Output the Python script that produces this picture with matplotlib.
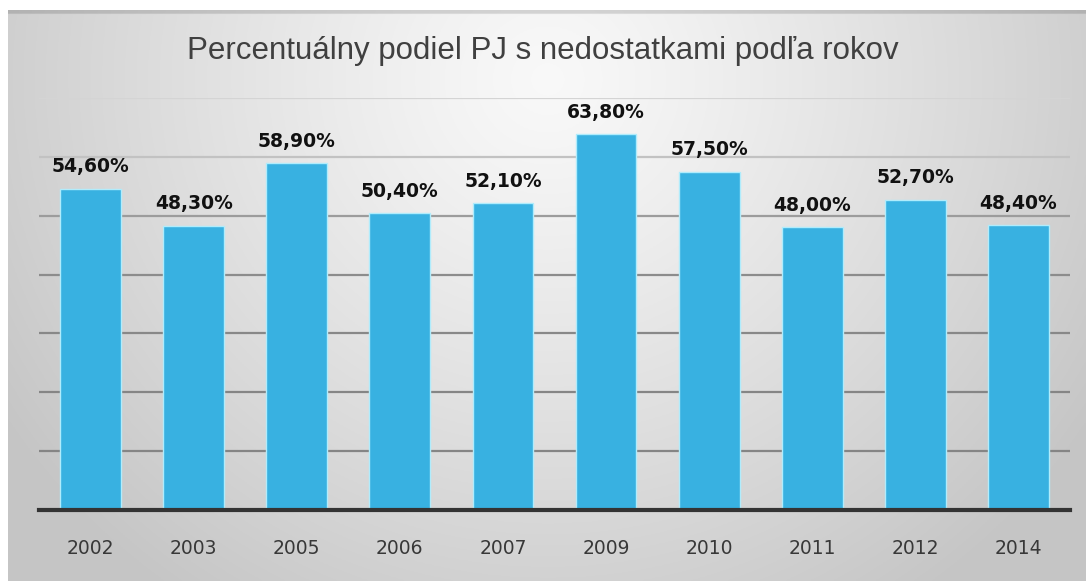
import numpy as np
import matplotlib
matplotlib.use("Agg")
import matplotlib.pyplot as plt

years = ["2002", "2003", "2005", "2006", "2007", "2009", "2010", "2011", "2012", "2014"]
values = [54.6, 48.3, 58.9, 50.4, 52.1, 63.8, 57.5, 48.0, 52.7, 48.4]
labels = ["54,60%", "48,30%", "58,90%", "50,40%", "52,10%", "63,80%", "57,50%", "48,00%", "52,70%", "48,40%"]
title = "Percentuálny podiel PJ s nedostatkami podľa rokov"

W, H = 1086, 581
fig = plt.figure(figsize=(W / 100, H / 100), dpi=100)
fig.patch.set_facecolor("white")

# background panel with radial gradient
bg = fig.add_axes([8 / W, 0, 1 - 8 / W, 1 - 10 / H])
bg.set_axis_off()
ny, nx = 300, 600
yy, xx = np.mgrid[0:ny, 0:nx]
cx, cy = nx * 0.5, ny * 0.12
r = np.sqrt(((xx - cx) / (nx * 0.6)) ** 2 + ((yy - cy) / (ny * 1.1)) ** 2)
r = np.clip(r, 0, 1)
val = 0.975 - 0.20 * r ** 1.2
img = np.dstack([val, val, val])
img[0:2, :, :] *= 0.86
bg.imshow(img, aspect="auto", extent=[0, 1, 0, 1], origin="upper")
bg.set_xlim(0, 1)
bg.set_ylim(0, 1)

ax = fig.add_axes([39 / W, 1 - 510 / H, (1070 - 39) / W, (510 - 98) / H])
ax.patch.set_alpha(0)
x = np.arange(len(years))
bars = ax.bar(x, values, width=0.59, color="#38b1e1", edgecolor="#b0ecfc", linewidth=1.0, zorder=3)
ax.set_xlim(-0.5, len(years) - 0.5)
ax.set_ylim(0, 70)
ax.set_yticks(np.arange(10, 71, 10))
ax.yaxis.grid(True, color="#8a8a8a", linewidth=1.6, zorder=1)
for i, gl in enumerate(ax.yaxis.get_gridlines()):
    c = ["#858585", "#858585", "#888888", "#8c8c8c", "#9c9c9c", "#c2c2c2", "#d4d4d4"][min(i, 6)]
    gl.set_color(c)
ax.tick_params(axis="y", left=False, labelleft=False)
ax.set_xticks(x)
ax.set_xticklabels(years, fontsize=13.5, color="#383838", fontfamily="DejaVu Sans")
ax.tick_params(axis="x", length=0, pad=21)
for s in ["top", "right", "left"]:
    ax.spines[s].set_visible(False)
ax.spines["bottom"].set_color("#333333")
ax.spines["bottom"].set_linewidth(3)
ax.spines["bottom"].set_zorder(4)

for b, lab in zip(bars, labels):
    ax.annotate(lab, (b.get_x() + b.get_width() / 2, b.get_height()), xytext=(0, 9),
                textcoords="offset points", ha="center", va="bottom",
                fontsize=13.5, fontweight="bold", color="#111111", fontfamily="DejaVu Sans")

fig.text(543 / W, 1 - 51 / H, title, ha="center", va="center", fontsize=22.5,
         color="#404040", fontfamily="Liberation Sans")

fig.savefig("out.png", dpi=100)
